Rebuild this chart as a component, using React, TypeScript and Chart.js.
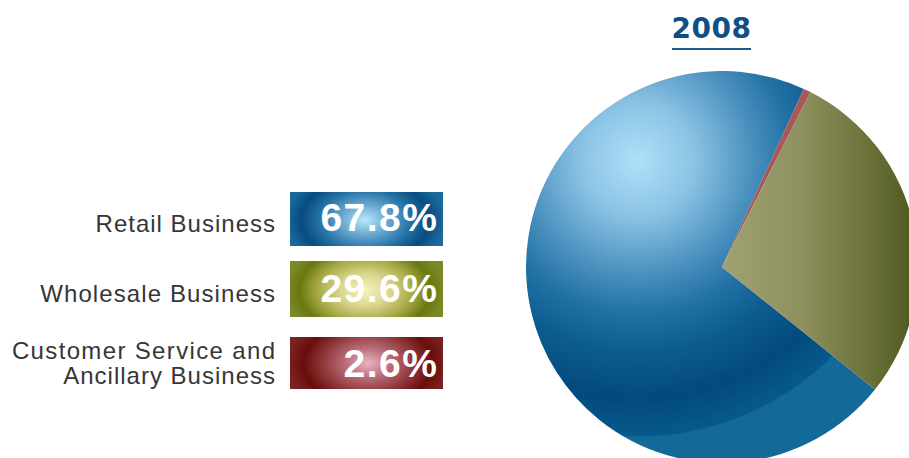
import React, { useEffect, useRef } from "react";
import { Chart, registerables } from "chart.js";

Chart.register(...registerables);

// ---- data ----
const chartTitle = "2008";
const categories = ["Retail Business", "Wholesale Business", "Customer Service and\nAncillary Business"];
const shareLabels = ["67.8%", "29.6%", "2.6%"];
// slice sizes as drawn in the pie (share of the full circle, %)
const sliceValues = [71.1, 28.3, 0.6];
// clockwise drawing order of the slices (indices into categories)
const drawOrder = [0, 2, 1];

type Geo = { cx: number; cy: number; r: number };
function geom(chart: any): Geo | null {
  const a = chart.chartArea;
  if (!a) return null;
  return {
    cx: (a.left + a.right) / 2,
    cy: (a.top + a.bottom) / 2,
    r: Math.min(a.right - a.left, a.bottom - a.top) / 2,
  };
}

function blueFill(c: any) {
  const g = geom(c.chart);
  if (!g) return "#1a6a9e";
  const hx = g.cx - 0.43 * g.r;
  const hy = g.cy - 0.545 * g.r;
  const grad = c.chart.ctx.createRadialGradient(hx, hy, 0, hx, hy, 1.413 * g.r);
  grad.addColorStop(0, "#aee0f8");
  grad.addColorStop(0.2, "#8cc4e5");
  grad.addColorStop(0.4, "#4e93c1");
  grad.addColorStop(0.55, "#2272a5");
  grad.addColorStop(0.7, "#0c5b8f");
  grad.addColorStop(0.86, "#034a7d");
  grad.addColorStop(0.995, "#06598c");
  grad.addColorStop(1, "#136a98");
  return grad;
}

function oliveFill(c: any) {
  const g = geom(c.chart);
  if (!g) return "#7d8050";
  const grad = c.chart.ctx.createLinearGradient(g.cx, 0, g.cx + g.r, 0);
  grad.addColorStop(0, "#a1a271");
  grad.addColorStop(0.4, "#8f905f");
  grad.addColorStop(0.75, "#6b7139");
  grad.addColorStop(1, "#4c581c");
  return grad;
}

const redFill = "#a65a57";
const fills: any[] = [blueFill, oliveFill, redFill];

const boxGradients = [
  "radial-gradient(ellipse 80px 52px at 75px 28px, #b9e7fb 0%, #6eaad2 28%, #2270a4 58%, #084c80 80%, #1a6a9e 100%)",
  "radial-gradient(ellipse 80px 52px at 75px 29px, #f6f3bb 0%, #dbd890 30%, #a6a944 60%, #6a780f 82%, #7c8927 100%)",
  "radial-gradient(ellipse 80px 52px at 78px 26px, #ebb2c2 0%, #bb6f7b 28%, #8d3537 58%, #6a0c0c 80%, #7a2222 100%)",
];

const boxTops = [192, 261, 337];
const boxHeights = [54, 56, 52];
const valueBaselines = [231, 302, 377];
const labelBaselines = [[232], [302], [359.5, 384.5]];
const labelSpacing = [[1], [1.1], [1.35, 1]];

export default function App() {
  const canvasRef = useRef<HTMLCanvasElement>(null);

  useEffect(() => {
    if (!canvasRef.current) return;
    const chart = new Chart(canvasRef.current, {
      type: "pie",
      data: {
        labels: drawOrder.map((i) => categories[i]),
        datasets: [
          {
            data: drawOrder.map((i) => sliceValues[i]),
            backgroundColor: (c: any) => {
              const f = fills[drawOrder[c.dataIndex]];
              return typeof f === "function" ? f(c) : f;
            },
            borderWidth: 0,
            hoverOffset: 0,
          } as any,
        ],
      },
      options: {
        responsive: false,
        animation: false,
        rotation: 128.7,
        layout: { padding: 0 },
        events: [],
        plugins: {
          legend: { display: false },
          tooltip: { enabled: false },
          title: { display: false },
        },
      },
    });
    return () => chart.destroy();
  }, []);

  const labelFont = '"Liberation Sans", Arial, sans-serif';

  return (
    <div
      style={{
        position: "fixed",
        left: 0,
        top: 0,
        width: 909,
        height: 458,
        overflow: "hidden",
        background: "#ffffff",
      }}
    >
      {/* title */}
      <div
        style={{
          position: "absolute",
          left: 660,
          width: 103,
          top: 15.3,
          textAlign: "center",
          fontFamily: '"DejaVu Sans", sans-serif',
          fontWeight: 700,
          fontSize: 28,
          lineHeight: "28px",
          letterSpacing: "0.5px",
          color: "#0e4f86",
        }}
      >
        {chartTitle}
      </div>
      <div
        style={{
          position: "absolute",
          left: 672,
          top: 48,
          width: 79,
          height: 2,
          background: "#1d5b8f",
        }}
      />

      {/* category labels */}
      {categories.map((cat, i) =>
        cat.split("\n").map((line, j) => (
          <div
            key={`${i}-${j}`}
            style={{
              position: "absolute",
              left: 0,
              width: 275 + labelSpacing[i][j],
              top: labelBaselines[i][j] - 20.3,
              textAlign: "right",
              fontFamily: labelFont,
              fontSize: 24,
              lineHeight: "24px",
              letterSpacing: `${labelSpacing[i][j]}px`,
              color: "#363636",
              whiteSpace: "nowrap",
            }}
          >
            {line}
          </div>
        ))
      )}

      {/* value boxes */}
      {shareLabels.map((v, i) => (
        <div
          key={`b${i}`}
          style={{
            position: "absolute",
            left: 290,
            top: boxTops[i],
            width: 153,
            height: boxHeights[i],
            background: boxGradients[i],
          }}
        />
      ))}
      {shareLabels.map((v, i) => (
        <div
          key={`v${i}`}
          style={{
            position: "absolute",
            left: 290,
            width: 148.5,
            top: valueBaselines[i] - 33,
            textAlign: "right",
            fontFamily: labelFont,
            fontWeight: 700,
            fontSize: 39,
            lineHeight: "39px",
            letterSpacing: "1.5px",
            color: "#ffffff",
            whiteSpace: "nowrap",
          }}
        >
          {v}
        </div>
      ))}

      {/* pie */}
      <canvas
        ref={canvasRef}
        width={392}
        height={392}
        style={{ position: "absolute", left: 526, top: 71, width: 392, height: 392 }}
      />
    </div>
  );
}
